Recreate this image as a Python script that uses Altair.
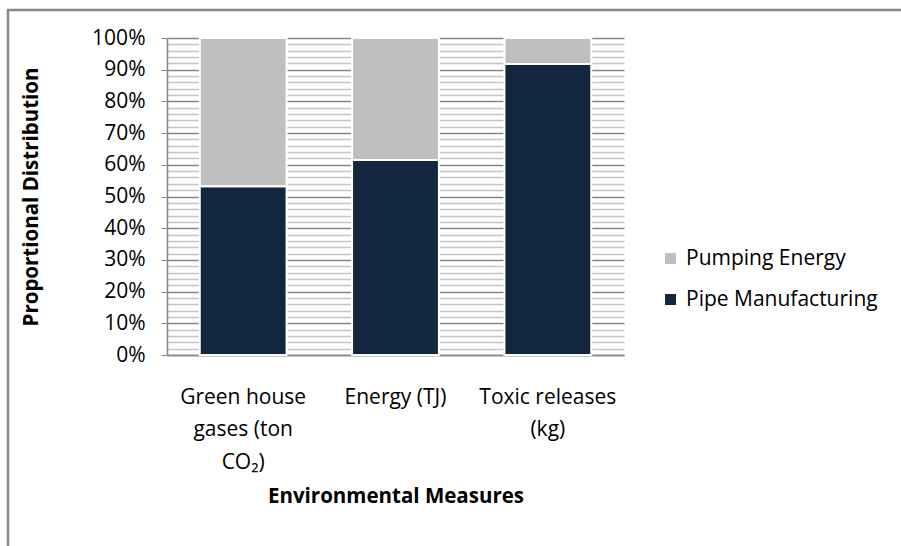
import altair as alt
import pandas as pd

categories = ["Green house\ngases (ton\nCO₂)", "Energy (TJ)", "Toxic releases\n(kg)"]
pipe_manufacturing = [0.532, 0.615, 0.918]
pumping_energy = [0.468, 0.385, 0.082]
series = ["Pumping Energy", "Pipe Manufacturing"]
colors = ["#bfbfbf", "#12263f"]
y_ticks = [round(i * 0.02, 2) for i in range(51)]

rows = []
for i, c in enumerate(categories):
    rows.append({"cat": c, "series": "Pipe Manufacturing", "value": pipe_manufacturing[i], "ord": 0})
    rows.append({"cat": c, "series": "Pumping Energy", "value": pumping_energy[i], "ord": 1})
df = pd.DataFrame(rows)

FONT = "Open Sans"
LFS = 21
TFS = 20.5
PL, PT, W, H = 167, 38, 457, 317

bars = alt.Chart(df).mark_bar(stroke="white", strokeWidth=2).encode(
    x=alt.X("cat:N", sort=categories,
            scale=alt.Scale(paddingInner=0.43, paddingOuter=0.215),
            axis=alt.Axis(title="Environmental Measures", labelAngle=0,
                          labelExpr="split(datum.label, '\\n')",
                          labelFont=FONT, labelFontSize=LFS, labelColor="black",
                          labelLineHeight=32.5, labelPadding=31, labelBaseline="top",
                          labelLimit=0,
                          ticks=False, domainColor="#868686", domainWidth=1.5,
                          titleFont=FONT, titleFontSize=TFS, titleFontWeight="bold",
                          titleColor="black", titlePadding=14)),
    y=alt.Y("value:Q", stack="zero",
            scale=alt.Scale(domain=[0, 1], nice=False),
            axis=alt.Axis(title="Proportional Distribution", values=y_ticks,
                          labelExpr="round(datum.value*100) % 10 == 0 ? format(datum.value, '.0%') : ''",
                          labelFont=FONT, labelFontSize=LFS, labelColor="black",
                          labelPadding=16, tickSize=6,
                          tickColor="#868686",
                          tickOpacity=alt.condition("round(datum.value*100) % 10 == 0", alt.value(1), alt.value(0)),
                          gridColor=alt.condition("round(datum.value*100) % 10 == 0", alt.value("#868686"), alt.value("#c4c4c4")),
                          gridWidth=1.3,
                          domainColor="#868686", domainWidth=1.5,
                          titleFont=FONT, titleFontSize=TFS, titleFontWeight="bold",
                          titleColor="black", titlePadding=50)),
    color=alt.Color("series:N",
                    scale=alt.Scale(domain=series, range=colors),
                    legend=alt.Legend(title=None, orient="none", legendX=493, legendY=210,
                                      symbolType="square", symbolSize=120, symbolStrokeWidth=0,
                                      labelFont=FONT, labelFontSize=LFS, labelColor="black",
                                      labelLimit=0, rowPadding=19, labelOffset=5)),
    order=alt.Order("ord:Q"),
)

border = alt.Chart(pd.DataFrame({"a": [0]})).mark_rect(
    fill=None, stroke="#888888", strokeWidth=2.5
).encode(
    x=alt.value(8 - PL), x2=alt.value(901 - PL + 20),
    y=alt.value(10 - PT), y2=alt.value(546 - PT + 20),
)

chart = alt.layer(bars, border).properties(
    width=W, height=H,
    autosize=alt.AutoSizeParams(type="none"),
    padding={"left": PL, "top": PT, "right": 901 - PL - W, "bottom": 546 - PT - H},
    background="white",
).configure_view(stroke=None)

chart.save("out.html", embed_options={"renderer": "svg", "actions": False})
